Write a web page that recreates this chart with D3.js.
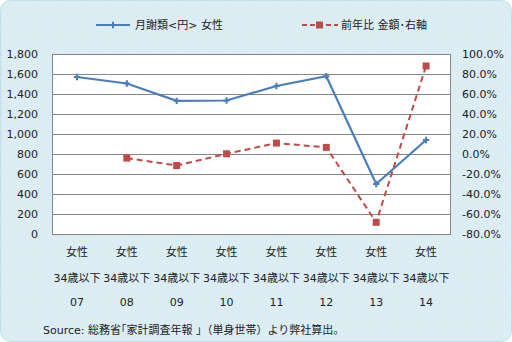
<!DOCTYPE html>
<html>
<head>
<meta charset="utf-8">
<script src="https://cdn.jsdelivr.net/npm/d3@7"></script>
<style>
  html, body { margin: 0; padding: 0; background: #fff; }
  svg { display: block; }
  text { font-family: "DejaVu Sans", "Noto Sans CJK JP", sans-serif; fill: #222; }
</style>
</head>
<body>
<svg id="chart" width="512" height="342"></svg>
<script>
// Monthly tuition spending (yen), women aged 34 and under, single households
const years = ["07", "08", "09", "10", "11", "12", "13", "14"];
const groupLabel = "女性";
const ageLabel = "34歳以下";
const monthlyFee = [1570, 1505, 1332, 1335, 1480, 1578, 500, 940];
// Year-on-year change (%), right axis
const yoyChange = [null, -4.1, -11.5, 0.2, 10.9, 6.6, -68.3, 88.0];
const leftTicks = [0, 200, 400, 600, 800, 1000, 1200, 1400, 1600, 1800];
const rightTicks = [-80, -60, -40, -20, 0, 20, 40, 60, 80, 100];
const seriesNames = ["月謝類<円> 女性", "前年比 金額･右軸"];
const sourceText = "Source: 総務省｢家計調査年報 ｣（単身世帯）より弊社算出。";

const svg = d3.select("#chart");
const W = 512, H = 342;
const plot = { left: 52, right: 451, top: 54, bottom: 234 };
const blue = "#4a7ebb", red = "#be4b48";

// Background: light blue panel with a fine pink dot texture
const defs = svg.append("defs");
const pat = defs.append("pattern").attr("id", "dots")
  .attr("width", 6).attr("height", 6).attr("patternUnits", "userSpaceOnUse");
pat.append("rect").attr("width", 6).attr("height", 6).attr("fill", "#dbeef4");
pat.append("rect").attr("x", 1).attr("y", 1).attr("width", 1).attr("height", 1).attr("fill", "#e8d6ec");
pat.append("rect").attr("x", 4).attr("y", 4).attr("width", 1).attr("height", 1).attr("fill", "#e4dcef");

svg.append("rect").attr("x", 0.5).attr("y", 0.5).attr("width", W - 1).attr("height", H - 1)
  .attr("rx", 10).attr("fill", "url(#dots)").attr("stroke", "#bfe0ea");

svg.append("rect").attr("x", plot.left).attr("y", plot.top)
  .attr("width", plot.right - plot.left).attr("height", plot.bottom - plot.top)
  .attr("fill", "#fff");

const x = d3.scaleBand().domain(years).range([plot.left, plot.right]);
const yL = d3.scaleLinear().domain([0, 1800]).range([plot.bottom, plot.top]);
const yR = d3.scaleLinear().domain([-80, 100]).range([plot.bottom, plot.top]);

// Gridlines
svg.append("g").selectAll("line").data(leftTicks.slice(1)).join("line")
  .attr("x1", plot.left).attr("x2", plot.right)
  .attr("y1", d => Math.round(yL(d)) + 0.5).attr("y2", d => Math.round(yL(d)) + 0.5)
  .attr("stroke", "#868686").attr("stroke-width", 1);

// Plot frame
svg.append("rect").attr("x", plot.left + 0.5).attr("y", plot.top + 0.5)
  .attr("width", plot.right - plot.left - 1).attr("height", plot.bottom - plot.top)
  .attr("fill", "none").attr("stroke", "#868686");

// Left axis labels
const fmt = d3.format(",");
svg.append("g").selectAll("text").data(leftTicks).join("text")
  .attr("x", 38).attr("y", d => yL(d) + 4)
  .attr("text-anchor", "end").attr("font-size", 11)
  .text(d => fmt(d));

// Right axis labels
svg.append("g").selectAll("text").data(rightTicks).join("text")
  .attr("x", 462).attr("y", d => yR(d) + 4)
  .attr("text-anchor", "start").attr("font-size", 11)
  .text(d => d.toFixed(1) + "%");

// Category labels (three lines each)
const cat = svg.append("g").selectAll("g").data(years).join("g")
  .attr("transform", d => `translate(${x(d) + x.bandwidth() / 2},0)`);
cat.append("text").attr("y", 256).attr("text-anchor", "middle").attr("font-size", 11).text(groupLabel);
cat.append("text").attr("y", 282).attr("text-anchor", "middle").attr("font-size", 11).text(ageLabel);
cat.append("text").attr("y", 306).attr("text-anchor", "middle").attr("font-size", 11).text(d => d);

// Monthly fee line
const cx = i => x(years[i]) + x.bandwidth() / 2;
const feeLine = d3.line().x((d, i) => cx(i)).y(d => yL(d));
svg.append("path").attr("d", feeLine(monthlyFee))
  .attr("fill", "none").attr("stroke", blue).attr("stroke-width", 2.2);
const star = d3.symbol().type(d3.symbolCross).size(22);
svg.append("g").selectAll("path").data(monthlyFee).join("path")
  .attr("d", star).attr("transform", (d, i) => `translate(${cx(i)},${yL(d)})`)
  .attr("fill", blue);

// Year-on-year line
const yoyPts = yoyChange.map((v, i) => ({ v, i })).filter(d => d.v !== null);
const yoyLine = d3.line().x(d => cx(d.i)).y(d => yR(d.v));
svg.append("path").attr("d", yoyLine(yoyPts))
  .attr("fill", "none").attr("stroke", red).attr("stroke-width", 2)
  .attr("stroke-dasharray", "6,4");
svg.append("g").selectAll("rect").data(yoyPts).join("rect")
  .attr("x", d => cx(d.i) - 3.5).attr("y", d => yR(d.v) - 3.5)
  .attr("width", 7).attr("height", 7).attr("fill", red);

// Legend
const lg = svg.append("g");
lg.append("line").attr("x1", 96).attr("x2", 130).attr("y1", 25).attr("y2", 25)
  .attr("stroke", blue).attr("stroke-width", 2.2);
lg.append("path").attr("d", star).attr("transform", "translate(113,25)").attr("fill", blue);
lg.append("text").attr("x", 135).attr("y", 29).attr("font-size", 11).text(seriesNames[0]);
lg.append("line").attr("x1", 302).attr("x2", 338).attr("y1", 25).attr("y2", 25)
  .attr("stroke", red).attr("stroke-width", 2).attr("stroke-dasharray", "5,3");
lg.append("rect").attr("x", 316).attr("y", 21.5).attr("width", 7).attr("height", 7).attr("fill", red);
lg.append("text").attr("x", 341).attr("y", 29).attr("font-size", 11).text(seriesNames[1]);

// Source note
svg.append("text").attr("x", 43).attr("y", 334).attr("font-size", 11).text(sourceText);
</script>
</body>
</html>
